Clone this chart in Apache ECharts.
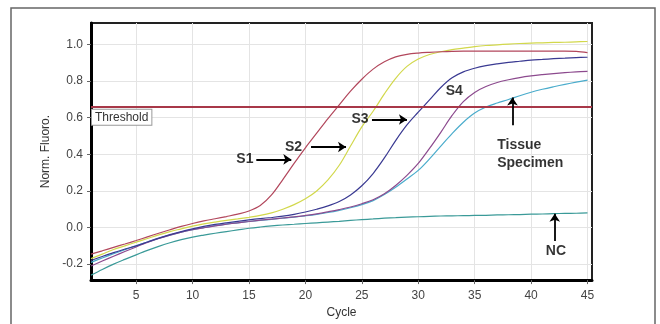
<!DOCTYPE html>
<html><head><meta charset="utf-8">
<script src="https://cdn.jsdelivr.net/npm/echarts@6/dist/echarts.min.js"></script>
<style>html,body{margin:0;padding:0;background:#fff}#c{width:660px;height:324px}</style>
</head><body><div id="c"></div>
<script>
const cycles = [1,2,3,4,5,6,7,8,9,10,11,12,13,14,15,16,17,18,19,20,21,22,23,24,25,26,27,28,29,30,31,32,33,34,35,36,37,38,39,40,41,42,43,44,45];
const s1 = [-0.145,-0.127,-0.108,-0.09,-0.071,-0.051,-0.031,-0.012,0.006,0.022,0.036,0.048,0.06,0.073,0.09,0.12,0.178,0.262,0.35,0.435,0.515,0.595,0.67,0.745,0.81,0.865,0.905,0.932,0.946,0.953,0.957,0.96,0.962,0.963,0.963,0.963,0.963,0.963,0.963,0.963,0.963,0.963,0.963,0.962,0.955];
const s2 = [-0.17,-0.145,-0.12,-0.10,-0.08,-0.06,-0.04,-0.022,-0.007,0.008,0.02,0.03,0.039,0.047,0.056,0.066,0.08,0.10,0.125,0.157,0.20,0.26,0.34,0.445,0.55,0.635,0.73,0.815,0.88,0.92,0.945,0.96,0.972,0.98,0.988,0.994,0.998,1.002,1.005,1.007,1.009,1.011,1.012,1.014,1.016];
const s3 = [-0.18,-0.158,-0.137,-0.118,-0.10,-0.079,-0.058,-0.039,-0.022,-0.007,0.006,0.017,0.026,0.034,0.042,0.049,0.055,0.062,0.072,0.085,0.10,0.118,0.142,0.178,0.228,0.295,0.38,0.475,0.56,0.63,0.697,0.765,0.818,0.85,0.87,0.884,0.894,0.902,0.908,0.914,0.918,0.922,0.925,0.928,0.93];
const s4 = [-0.21,-0.183,-0.157,-0.131,-0.106,-0.082,-0.06,-0.041,-0.025,-0.012,-0.001,0.009,0.018,0.026,0.033,0.04,0.046,0.052,0.058,0.066,0.075,0.086,0.098,0.112,0.13,0.152,0.185,0.23,0.285,0.35,0.432,0.52,0.612,0.688,0.738,0.77,0.792,0.807,0.819,0.828,0.835,0.841,0.846,0.85,0.853];
const tissue = [-0.19,-0.166,-0.143,-0.121,-0.1,-0.079,-0.059,-0.041,-0.025,-0.011,0.0,0.01,0.019,0.026,0.033,0.039,0.045,0.051,0.057,0.064,0.072,0.082,0.094,0.108,0.125,0.147,0.18,0.22,0.265,0.312,0.375,0.445,0.513,0.575,0.625,0.658,0.68,0.699,0.72,0.739,0.755,0.769,0.782,0.794,0.805];
const nc = [-0.26,-0.229,-0.2,-0.174,-0.149,-0.125,-0.103,-0.083,-0.066,-0.052,-0.041,-0.031,-0.022,-0.013,-0.004,0.003,0.009,0.014,0.018,0.022,0.026,0.03,0.034,0.039,0.043,0.047,0.051,0.054,0.057,0.059,0.061,0.063,0.064,0.065,0.066,0.067,0.069,0.07,0.071,0.073,0.074,0.076,0.077,0.078,0.08];
const threshold = 0.663;
const xTicks = [5,10,15,20,25,30,35,40,45];
const yTicks = [-0.2,0,0.2,0.4,0.6,0.8,1.0];
// annotation anchors in data coordinates
const notes = [
  {name:'S1', x:15.4, y:0.372, align:'right'},
  {name:'S2', x:19.7, y:0.44, align:'right'},
  {name:'S3', x:25.6, y:0.59, align:'right'},
  {name:'S4', x:33.2, y:0.745, align:'center'},
  {name:'Tissue', x:37.0, y:0.452, align:'left'},
  {name:'Specimen', x:37.0, y:0.351, align:'left'},
  {name:'NC', x:42.2, y:-0.128, align:'center'}
];
const arrows = [
  [[15.65,0.372],[18.75,0.372]],
  [[20.5,0.44],[23.6,0.44]],
  [[25.9,0.59],[29.0,0.59]],
  [[38.35,0.558],[38.35,0.71]],
  [[42.1,-0.074],[42.1,0.075]]
];

const chart = echarts.init(document.getElementById('c'));
const mk = (name, data, color) => ({
  name, type:'line', smooth:0.35, showSymbol:false, symbol:'none',
  data: cycles.map((c,i)=>[c,data[i]]),
  lineStyle:{color, width:1.2}, itemStyle:{color}, z:3
});
chart.setOption({
  animation:false,
  backgroundColor:'#fff',
  graphic:[{type:'rect', shape:{x:11,y:8,width:644,height:340}, style:{fill:'none', stroke:'#666', lineWidth:1.5}, z:-1}],
  grid:{left:91, top:23, right:68, bottom:37, show:true, borderColor:'#222', borderWidth:2, backgroundColor:'#fff'},
  xAxis:{type:'value', min:1, max:45.4,
    name:'Cycle', nameLocation:'middle', nameGap:23,
    nameTextStyle:{fontFamily:'Liberation Sans', fontSize:12, color:'#333'},
    axisLine:{show:true, onZero:false, lineStyle:{color:'#000', width:3}},
    axisTick:{show:true, length:4, customValues:xTicks, lineStyle:{color:'#666'}},
    axisLabel:{customValues:xTicks, margin:10, fontFamily:'Liberation Sans', fontSize:12, color:'#444'},
    splitLine:{show:true, lineStyle:{color:'#e4e4e4', width:1}}
  },
  yAxis:{type:'value', min:-0.287, max:1.117,
    name:'Norm. Fluoro.', nameLocation:'middle', nameGap:30,
    nameTextStyle:{fontFamily:'Liberation Sans', fontSize:12, color:'#333'},
    axisLine:{show:true, onZero:false, lineStyle:{color:'#000', width:3}},
    axisTick:{show:true, length:4, customValues:yTicks, lineStyle:{color:'#666'}},
    axisLabel:{customValues:yTicks, margin:8, fontFamily:'Liberation Sans', fontSize:12, color:'#444', formatter:v=>v.toFixed(1)},
    splitLine:{show:true, lineStyle:{color:'#e4e4e4', width:1}}
  },
  series:[
    mk('NC', nc, '#3a9a98'),
    mk('Tissue Specimen', tissue, '#4aaccc'),
    mk('S4', s4, '#8c4a8e'),
    mk('S3', s3, '#3a3a92'),
    mk('S2', s2, '#d2d84c'),
    mk('S1', s1, '#b2475c'),
    {type:'line', data:[], silent:true, z:4,
      markLine:{silent:true, symbol:'none', animation:false,
        lineStyle:{color:'#a83848', width:2, type:'solid'},
        label:{show:true, position:'insideStartBottom', formatter:'Threshold', distance:[1,3],
          backgroundColor:'#fff', borderColor:'#999', borderWidth:1, padding:[2,3,1,3],
          fontFamily:'Liberation Sans', fontSize:12, color:'#333'},
        data:[{yAxis:threshold}]}},
    {type:'line', data:[], silent:true, z:5,
      markLine:{silent:true, symbol:['none','arrow'], symbolSize:8, animation:false,
        lineStyle:{color:'#000', width:1.8, type:'solid'}, label:{show:false},
        data: arrows.map(a=>[{coord:a[0]},{coord:a[1]}])}},
    {type:'scatter', symbolSize:0, silent:true, z:6,
      data: notes.map(n=>({name:n.name, value:[n.x,n.y], label:{align:n.align}})),
      label:{show:true, position:'inside', formatter:'{b}', fontFamily:'Liberation Sans', fontWeight:'bold', fontSize:14, color:'#000', verticalAlign:'middle'}}
  ]
});
</script></body></html>
